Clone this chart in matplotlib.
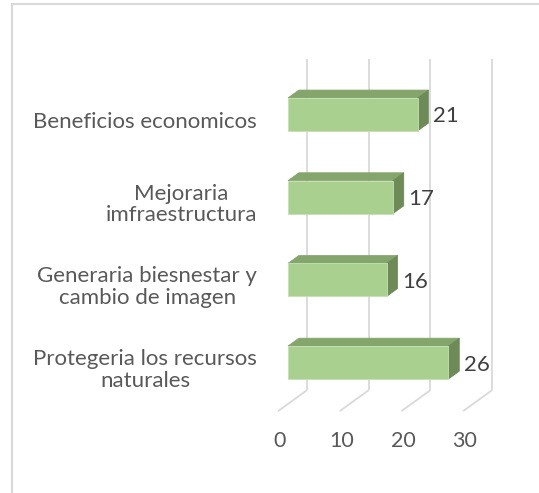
import matplotlib
matplotlib.use("Agg")
import matplotlib.pyplot as plt
from matplotlib.patches import Polygon, Rectangle
import numpy as np

categories = ["Beneficios economicos", "Mejoraria\nimfraestructura",
              "Generaria biesnestar y\ncambio de imagen", "Protegeria los recursos\nnaturales"]
values = [21, 17, 16, 26]
xticks = [0, 10, 20, 30]

plt.rcParams['font.family'] = ['Lato', 'DejaVu Sans']

W, H = 539, 493
fig = plt.figure(figsize=(W / 100, H / 100), dpi=100)
ax = fig.add_axes([0, 0, 1, 1])
ax.axis('off')

PXU = 6.17     # px per value unit
PXC = 82.7     # px per category
X0 = 278       # px of value 0 (front plane)
Y0 = 121.7     # px of category 0 center (front plane)
ax.set_xlim(-X0 / PXU, (W - X0) / PXU)
ax.set_ylim((H - Y0) / PXC, -Y0 / PXC)

DX = 29 / PXU
DY = -21 / PXC

def P(v, c, d):
    return (v + d * DX, c + d * DY)

grid_col = '#D9D9D9'
n = len(categories)
# back wall gridlines and floor lines
for t in xticks:
    x1, y1 = P(t, -0.5, 1)
    x2, y2 = P(t, n - 0.5, 1)
    ax.plot([x1, x2], [y1, y2], color=grid_col, lw=1.3, zorder=1, solid_capstyle='butt')
    x3, y3 = P(t, n - 0.5, 0)
    ax.plot([x2, x3], [y2, y3], color=grid_col, lw=1.3, zorder=1, solid_capstyle='butt')

front_col = '#A9D08E'
top_col = '#84A56C'
side_col = '#6D8A57'
edge_col = '#C5E0B4'
df, db = 0.345, 0.72
hh = 0.2
cpos = np.arange(n)

# front faces
ax.barh(cpos + df * DY, values, left=df * DX, height=2 * hh, color=front_col,
        edgecolor=edge_col, linewidth=0.6, zorder=3)
for c, v in zip(cpos, values):
    xlf, ytf = P(0, c - hh, df)
    xrf, _ = P(v, c - hh, df)
    _, ybf = P(0, c + hh, df)
    xlb, ytb = P(0, c - hh, db)
    xrb, _ = P(v, c - hh, db)
    _, ybb = P(0, c + hh, db)
    ax.add_patch(Polygon([(xlf, ytf), (xrf, ytf), (xrb, ytb), (xlb, ytb)],
                         closed=True, facecolor=top_col, edgecolor=top_col, lw=0.5, zorder=2))
    ax.add_patch(Polygon([(xrf, ytf), (xrb, ytb), (xrb, ybb), (xrf, ybf)],
                         closed=True, facecolor=side_col, edgecolor=side_col, lw=0.5, zorder=2))
    ax.text(xrf + 2.5, c + df * DY + 0.024, str(v), ha='left', va='center',
            fontsize=16, color='#404040', zorder=4)

# category labels
for c, lab in zip(cpos, categories):
    ax.text(-3.4, c, lab, ha='right', va='center', multialignment='center',
            fontsize=16, color='#595959', linespacing=1.1)

# x tick labels
for t in xticks:
    ax.text(t + 0.3, (441 - Y0) / PXC, str(t), ha='center', va='center',
            fontsize=15.5, color='#595959')

# chart border
fig.patches.append(Rectangle((12 / W, -0.1), 1.2, 1 - 4 / H + 0.1, transform=fig.transFigure,
                             fill=False, edgecolor=grid_col, lw=1.5))

fig.savefig('out.png', dpi=100, facecolor='white')
